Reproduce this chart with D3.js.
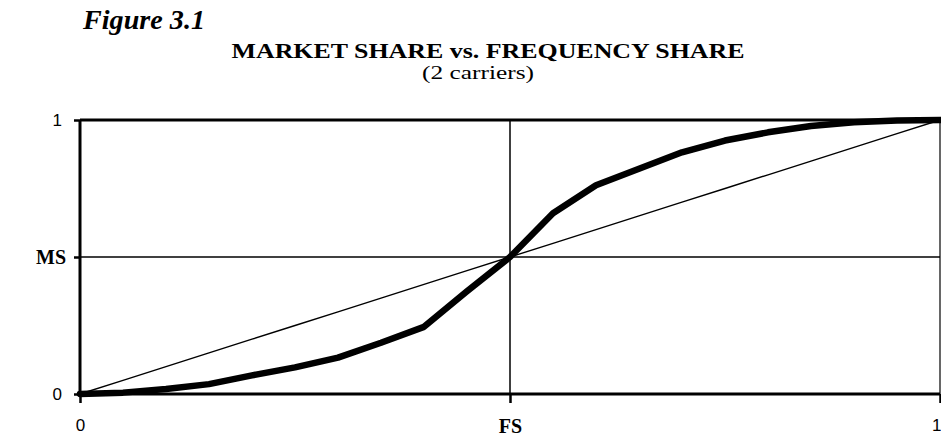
<!DOCTYPE html>
<html>
<head>
<meta charset="utf-8">
<script src="https://cdn.jsdelivr.net/npm/d3@7"></script>
<style>
  html, body { margin: 0; padding: 0; background: #fff; }
  svg { display: block; }
</style>
</head>
<body>
<div id="chart"></div>
<script>
// ---- Data ----
const frequencyShare = [0, 0.05, 0.10, 0.15, 0.20, 0.25, 0.30, 0.35, 0.40, 0.45, 0.50,
                        0.55, 0.60, 0.65, 0.70, 0.75, 0.80, 0.85, 0.90, 0.95, 1.00];
const marketShare    = [0, 0.005, 0.018, 0.036, 0.068, 0.097, 0.133, 0.187, 0.245, 0.375, 0.50,
                        0.660, 0.762, 0.822, 0.882, 0.925, 0.955, 0.978, 0.992, 0.998, 1.00];
const equalShare     = [0, 0.05, 0.10, 0.15, 0.20, 0.25, 0.30, 0.35, 0.40, 0.45, 0.50,
                        0.55, 0.60, 0.65, 0.70, 0.75, 0.80, 0.85, 0.90, 0.95, 1.00];
const xTickValues = [0, 0.5, 1];
const xTickLabels = ["0", "FS", "1"];
const yTickValues = [0, 0.5, 1];
const yTickLabels = ["0", "MS", "1"];
const figureLabel = "Figure 3.1";
const chartTitle = "MARKET SHARE vs. FREQUENCY SHARE";
const chartSubtitle = "(2 carriers)";

// ---- Layout ----
const W = 941, H = 441;
const plot = { left: 80, right: 940, top: 120, bottom: 394 };
const serif = "'Liberation Serif', 'Times New Roman', serif";
const sans = "'Liberation Sans', Arial, sans-serif";

const svg = d3.select("#chart").append("svg")
  .attr("width", W).attr("height", H);

const x = d3.scaleLinear().domain([0, 1]).range([plot.left, plot.right]);
const y = d3.scaleLinear().domain([0, 1]).range([plot.bottom, plot.top]);

// ---- Titles ----
svg.append("text").text(figureLabel)
  .attr("x", 83).attr("y", 29)
  .attr("font-family", serif).attr("font-weight", "bold").attr("font-style", "italic")
  .attr("font-size", 27).attr("textLength", 122).attr("lengthAdjust", "spacingAndGlyphs");

svg.append("text").text(chartTitle)
  .attr("x", 488).attr("y", 58).attr("text-anchor", "middle")
  .attr("font-family", serif).attr("font-weight", "bold")
  .attr("font-size", 20).attr("textLength", 513).attr("lengthAdjust", "spacingAndGlyphs");

svg.append("text").text(chartSubtitle)
  .attr("x", 478).attr("y", 79).attr("text-anchor", "middle")
  .attr("font-family", serif)
  .attr("font-size", 18).attr("textLength", 112).attr("lengthAdjust", "spacingAndGlyphs");

// ---- Grid lines ----
const grid = svg.append("g").attr("stroke", "#000").attr("fill", "none");
grid.append("line").attr("x1", x(0)).attr("x2", x(1)).attr("y1", y(0.5)).attr("y2", y(0.5)).attr("stroke-width", 1.5);
grid.append("line").attr("x1", x(0)).attr("x2", x(1)).attr("y1", y(1)).attr("y2", y(1)).attr("stroke-width", 3);
grid.append("line").attr("x1", x(0.5)).attr("x2", x(0.5)).attr("y1", y(0)).attr("y2", y(1)).attr("stroke-width", 1.5);
grid.append("line").attr("x1", x(1)).attr("x2", x(1)).attr("y1", y(0)).attr("y2", y(1)).attr("stroke-width", 1.2);

// ---- Axes ----
const yAxis = d3.axisLeft(y).tickValues(yTickValues).tickSize(6).tickPadding(14)
  .tickFormat((d, i) => yTickLabels[i]);
const gy = svg.append("g").attr("transform", `translate(${x(0)},0)`).call(yAxis);
gy.select(".domain").attr("stroke", "#000").attr("stroke-width", 3).attr("d", `M0,${y(0)}V${y(1)}`);
gy.selectAll(".tick line").attr("stroke", "#000").attr("stroke-width", 2.5);
gy.selectAll(".tick text")
  .attr("fill", "#000")
  .attr("x", (d, i) => yTickLabels[i] === "MS" ? -14 : -18)
  .attr("font-family", (d, i) => yTickLabels[i] === "MS" ? serif : sans)
  .attr("font-weight", (d, i) => yTickLabels[i] === "MS" ? "bold" : "normal")
  .attr("font-size", (d, i) => yTickLabels[i] === "MS" ? 20 : 17);

const xAxis = d3.axisBottom(x).tickValues(xTickValues).tickSize(9).tickPadding(16)
  .tickFormat((d, i) => xTickLabels[i]);
const gx = svg.append("g").attr("transform", `translate(0,${y(0)})`).call(xAxis);
gx.select(".domain").attr("stroke", "#000").attr("stroke-width", 3).attr("d", `M${x(0)},0H${x(1)}`);
gx.selectAll(".tick line").attr("stroke", "#000").attr("stroke-width", 2.5);
gx.selectAll(".tick text")
  .attr("fill", "#000")
  .attr("text-anchor", (d, i) => i === xTickLabels.length - 1 ? "end" : "middle")
  .attr("x", (d, i) => i === xTickLabels.length - 1 ? 1 : 0)
  .attr("font-family", (d, i) => xTickLabels[i] === "FS" ? serif : sans)
  .attr("font-weight", (d, i) => xTickLabels[i] === "FS" ? "bold" : "normal")
  .attr("font-size", (d, i) => xTickLabels[i] === "FS" ? 20 : 17);

// ---- Lines ----
const line = d3.line().x(d => x(d[0])).y(d => y(d[1]));

svg.append("path")
  .datum(frequencyShare.map((f, i) => [f, equalShare[i]]))
  .attr("fill", "none").attr("stroke", "#000").attr("stroke-width", 1.4)
  .attr("d", line);

svg.append("path")
  .datum(frequencyShare.map((f, i) => [f, marketShare[i]]))
  .attr("fill", "none").attr("stroke", "#000").attr("stroke-width", 6.5)
  .attr("stroke-linejoin", "round").attr("stroke-linecap", "round")
  .attr("d", line);
</script>
</body>
</html>
